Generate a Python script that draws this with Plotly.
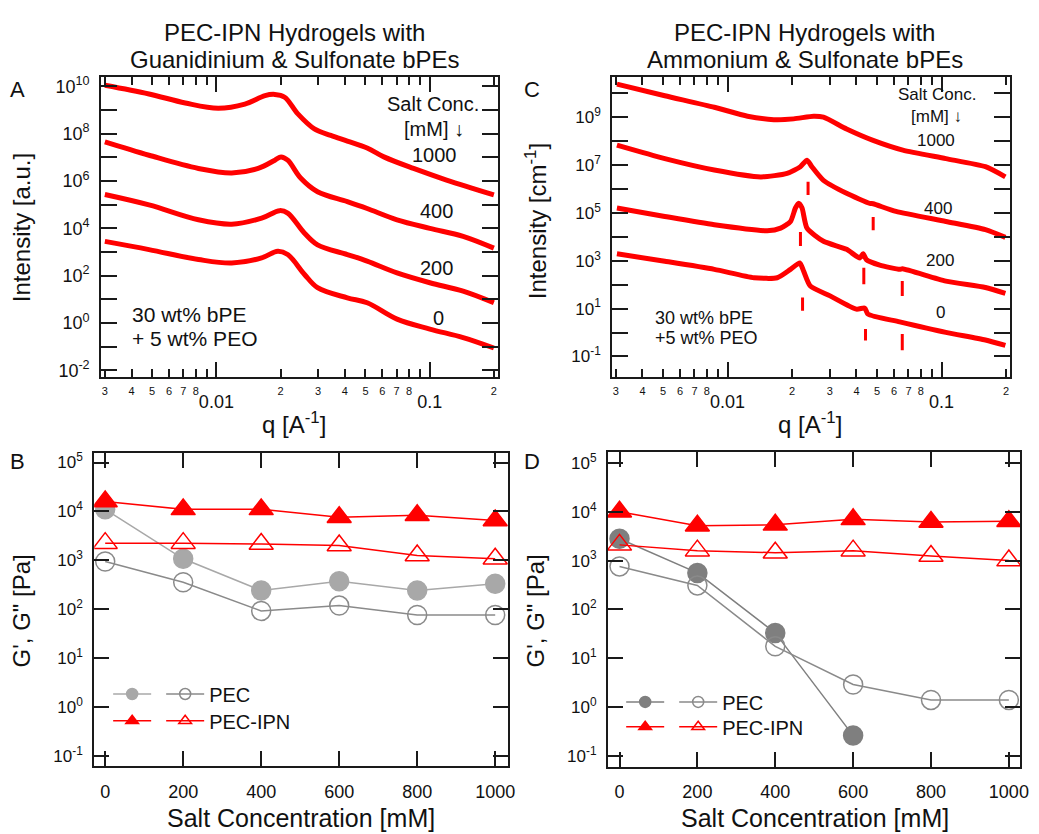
import plotly.graph_objects as go

W, H = 1039, 834
FONT = "Liberation Sans, Arial, sans-serif"
RED = "#ff0000"
AX = "#1a1a1a"

# ---------------- Panel A : SAXS, guanidinium & sulfonate ----------------
A_q_1000 = [0.003, 0.00483, 0.00715, 0.0102, 0.0136, 0.0169, 0.0188, 0.0209, 0.0241, 0.0288, 0.0344, 0.0411, 0.0509, 0.061, 0.084, 0.12, 0.2]
A_I_1000 = [1.12e10, 4.8e9, 2.0e9, 1.2e9, 1.8e9, 4.1e9, 4.6e9, 3.5e9, 6.9e8, 1.6e8, 8.5e7, 4.9e7, 2.5e7, 1.05e7, 3.4e6, 1.1e6, 2.6e5]
A_q_400 = [0.003, 0.00483, 0.00824, 0.0118, 0.0157, 0.0188, 0.0201, 0.0216, 0.0249, 0.0298, 0.0411, 0.0509, 0.0703, 0.1002, 0.1435, 0.2]
A_I_400 = [4.5e7, 1.23e7, 3.4e6, 2.2e6, 3.4e6, 7.6e6, 1.05e7, 7.6e6, 1.3e6, 3.5e5, 1.35e5, 6.9e4, 2.3e4, 1.0e4, 4.6e3, 1.45e3]
A_q_200 = [0.003, 0.00483, 0.00824, 0.0118, 0.0163, 0.0198, 0.0216, 0.0259, 0.0298, 0.0411, 0.0509, 0.0703, 0.1002, 0.1435, 0.2]
A_I_200 = [2.7e5, 9.8e4, 2.3e4, 1.5e4, 2.7e4, 5.6e4, 4.4e4, 6.2e3, 2.0e3, 780, 410, 130, 50, 22, 7.1]
A_q_0 = [0.003, 0.00483, 0.00824, 0.0118, 0.0163, 0.0194, 0.0216, 0.0259, 0.0298, 0.0411, 0.0509, 0.0703, 0.1002, 0.1435, 0.2]
A_I_0 = [2800, 1260, 480, 340, 560, 1070, 780, 112, 31, 11.5, 7.1, 1.45, 0.55, 0.24, 0.087]

# ---------------- Panel C : SAXS, ammonium & sulfonate ----------------
C_q_1000 = [0.00304, 0.00509, 0.00867, 0.01239, 0.01644, 0.02037, 0.02523, 0.02805, 0.03597, 0.04786, 0.0659, 0.1047, 0.1603, 0.1986]
C_I_1000 = [2.4e10, 7.9e9, 2.6e9, 1.1e9, 7.9e8, 8.5e8, 1.1e9, 1.0e9, 3.2e8, 1.07e8, 4.2e7, 1.86e7, 8.5e6, 3.2e6]
C_q_400 = [0.00304, 0.00509, 0.00867, 0.01429, 0.01897, 0.02188, 0.0235, 0.02477, 0.02805, 0.03597, 0.04624, 0.04786, 0.0612, 0.1047, 0.1603, 0.1986]
C_I_400 = [6.8e7, 1.86e7, 6.2e6, 3.2e6, 4.5e6, 8.5e6, 1.6e7, 8.5e6, 2.3e6, 6.6e5, 2.5e5, 2.4e5, 1.15e5, 4.4e4, 2.0e4, 9.5e3]
C_q_200 = [0.00304, 0.00509, 0.00867, 0.01531, 0.0177, 0.01968, 0.02075, 0.02148, 0.02228, 0.0235, 0.02805, 0.03597, 0.0415, 0.04295, 0.04457, 0.0514, 0.0637, 0.0656, 0.1047, 0.1603, 0.1986]
C_I_200 = [1.6e5, 7.1e4, 3.2e4, 1.8e4, 2.3e4, 4.4e4, 1.6e5, 2.5e5, 1.6e5, 2.3e4, 6.5e3, 3.0e3, 1.3e3, 1.95e3, 1.1e3, 660, 440, 460, 141, 76, 43]
C_q_0 = [0.00304, 0.00509, 0.00867, 0.0133, 0.01706, 0.01968, 0.02173, 0.02265, 0.02432, 0.03013, 0.03999, 0.04375, 0.04529, 0.0637, 0.1047, 0.1603, 0.1986]
C_I_0 = [1950, 955, 437, 195, 195, 437, 813, 372, 89, 34, 9.5, 10.5, 5.9, 2.8, 1.02, 0.49, 0.29]
# Bragg peak indicator dashes
C_peak_q = [0.02377, 0.0479, 0.0219, 0.0433, 0.0655, 0.0224, 0.0441, 0.0655]
C_peak_top = [2.0e6, 6.8e4, 1.6e4, 513, 141, 28.8, 1.41, 0.87]
C_peak_bot = [5.6e5, 1.9e4, 4.1e3, 105, 34, 8.1, 0.46, 0.18]

# ---------------- Panels B, D : rheology ----------------
salt = [0, 200, 400, 600, 800, 1000]
B_pec_Gp = [1.1e4, 1070, 240, 370, 240, 330]
B_pec_Gpp = [940, 355, 92, 118, 76, 76]
B_ipn_Gp = [1.6e4, 1.1e4, 1.1e4, 7600, 8300, 6500]
B_ipn_Gpp = [2240, 2240, 2150, 2000, 1250, 1070]

D_salt_filled = [0, 200, 400, 600]
D_pec_Gp = [2800, 560, 33, 0.26]
D_pec_Gpp = [760, 310, 17.5, 2.9, 1.4, 1.4]
D_ipn_Gp = [1.0e4, 5200, 5400, 7000, 6200, 6400]
D_ipn_Gpp = [2100, 1600, 1450, 1600, 1240, 1000]

# tick definitions
q_digit_vals = [0.003, 0.004, 0.005, 0.006, 0.007, 0.008, 0.02, 0.03, 0.04, 0.05, 0.06, 0.07, 0.08, 0.2]
q_digit_text = ["3", "4", "5", "6", "7", "8", "2", "3", "4", "5", "6", "7", "8", "2"]
q_nine_vals = [0.009, 0.09]
q_major_vals = [0.01, 0.1]
q_major_text = ["0.01", "0.1"]
A_label_exps = [-2, 0, 2, 4, 6, 8, 10]
A_minor_exps = [-1, 1, 3, 5, 7, 9]
C_label_exps = [-1, 1, 3, 5, 7, 9]
C_minor_exps = [0, 2, 4, 6, 8, 10]
G_exps = [-1, 0, 1, 2, 3, 4, 5]


def px(x):
    return x / W


def py(y):
    return 1 - y / H


fig = go.Figure()


def saxs(q, I, xa, ya, smooth):
    fig.add_trace(go.Scatter(x=q, y=I, mode="lines", xaxis=xa, yaxis=ya, showlegend=False,
                             line=dict(color=RED, width=5, shape="spline", smoothing=smooth),
                             hoverinfo="skip"))


for q, I in [(A_q_1000, A_I_1000), (A_q_400, A_I_400), (A_q_200, A_I_200), (A_q_0, A_I_0)]:
    saxs(q, I, "x", "y", 1.0)
for q, I in [(C_q_1000, C_I_1000), (C_q_400, C_I_400), (C_q_200, C_I_200), (C_q_0, C_I_0)]:
    saxs(q, I, "x3", "y3", 0.6)

dx, dy = [], []
for q, t, b in zip(C_peak_q, C_peak_top, C_peak_bot):
    dx += [q, q, None]
    dy += [t, b, None]
fig.add_trace(go.Scatter(x=dx, y=dy, mode="lines", xaxis="x3", yaxis="y3", showlegend=False,
                         line=dict(color=RED, width=3)))

# overlay axes carrying the decade ticks (0.01, 0.1)
fig.add_trace(go.Scatter(x=[], y=[], xaxis="x5", yaxis="y", showlegend=False))
fig.add_trace(go.Scatter(x=[], y=[], xaxis="x6", yaxis="y3", showlegend=False))

# rheology
LGRAY = "#a8a8a8"
MGRAY = "#8a8a8a"
DGRAY = "#7f7f7f"


def rheo(x, y, xa, ya, symbol, color, size, name, legend):
    # data trace
    fig.add_trace(go.Scatter(x=x, y=y, mode="lines+markers", xaxis=xa, yaxis=ya, showlegend=False,
                             line=dict(color=color, width=1.5),
                             marker=dict(symbol=symbol, size=size, color=color,
                                         line=dict(color=color, width=1.5))))
    # legend key (smaller symbol, as in the reference key)
    fig.add_trace(go.Scatter(x=[None], y=[None], mode="lines+markers", xaxis=xa, yaxis=ya,
                             name=name, legend=legend, showlegend=True,
                             line=dict(color=color, width=1.5),
                             marker=dict(symbol=symbol, size=11, color=color,
                                         line=dict(color=color, width=1.5))))


rheo(salt, B_pec_Gp, "x2", "y2", "circle", LGRAY, 19, "", "legend")
rheo(salt, B_pec_Gpp, "x2", "y2", "circle-open", MGRAY, 19, "PEC", "legend")
rheo(salt, B_ipn_Gp, "x2", "y2", "triangle-up", RED, 21, "", "legend2")
rheo(salt, B_ipn_Gpp, "x2", "y2", "triangle-up-open", RED, 21, "PEC-IPN", "legend2")

rheo(D_salt_filled, D_pec_Gp, "x4", "y4", "circle", DGRAY, 19, "", "legend3")
rheo(salt, D_pec_Gpp, "x4", "y4", "circle-open", MGRAY, 19, "PEC", "legend3")
rheo(salt, D_ipn_Gp, "x4", "y4", "triangle-up", RED, 21, "", "legend4")
rheo(salt, D_ipn_Gpp, "x4", "y4", "triangle-up-open", RED, 21, "PEC-IPN", "legend4")

base_axis = dict(showline=True, linecolor=AX, linewidth=2, mirror="ticks", ticks="inside",
                 tickcolor=AX, tickwidth=1.5, showgrid=False, zeroline=False)


def pow_text(exps):
    return [f"10<sup>{k}</sup>" for k in exps]


def pow_vals(exps):
    return [10.0 ** k for k in exps]


layout_axes = dict(
    xaxis=dict(base_axis, type="log", domain=[px(102), px(502)], range=[-2.54, -0.679], anchor="y",
               tickvals=q_digit_vals, ticktext=q_digit_text, ticklen=8,
               minor=dict(tickvals=q_nine_vals, ticklen=8, ticks="inside", tickcolor=AX, tickwidth=1.5),
               tickfont=dict(size=11, color="#111"), ticklabelstandoff=3),
    xaxis5=dict(type="log", overlaying="x", anchor="y", range=[-2.54, -0.679], showline=False,
                showgrid=False, zeroline=False, ticks="inside", ticklen=15, tickwidth=1.5, tickcolor=AX,
                mirror="ticks", tickvals=q_major_vals, ticktext=q_major_text,
                tickfont=dict(size=18, color="#111"), ticklabelstandoff=12),
    yaxis=dict(base_axis, type="log", domain=[py(377), py(75)], range=[-2.3, 10.38], anchor="x",
               tickvals=pow_vals(A_label_exps), ticktext=pow_text(A_label_exps), ticklen=16,
               minor=dict(tickvals=pow_vals(A_minor_exps), ticklen=16, ticks="inside", tickcolor=AX, tickwidth=1.5),
               tickfont=dict(size=18, color="#111"), ticklabelstandoff=6),
    xaxis3=dict(base_axis, type="log", domain=[px(617), px(1017.7)], range=[-2.539, -0.681], anchor="y3",
                tickvals=q_digit_vals, ticktext=q_digit_text, ticklen=8,
                minor=dict(tickvals=q_nine_vals, ticklen=8, ticks="inside", tickcolor=AX, tickwidth=1.5),
                tickfont=dict(size=11, color="#111"), ticklabelstandoff=3),
    xaxis6=dict(type="log", overlaying="x3", anchor="y3", range=[-2.539, -0.681], showline=False,
                showgrid=False, zeroline=False, ticks="inside", ticklen=15, tickwidth=1.5, tickcolor=AX,
                mirror="ticks", tickvals=q_major_vals, ticktext=q_major_text,
                tickfont=dict(size=18, color="#111"), ticklabelstandoff=12),
    yaxis3=dict(base_axis, type="log", domain=[py(377), py(75)], range=[-1.87, 10.66], anchor="x3",
                tickvals=pow_vals(C_label_exps), ticktext=pow_text(C_label_exps), ticklen=16,
                minor=dict(tickvals=pow_vals(C_minor_exps), ticklen=16, ticks="inside", tickcolor=AX, tickwidth=1.5),
                tickfont=dict(size=17, color="#111"), ticklabelstandoff=6),
    xaxis2=dict(base_axis, domain=[px(95), px(512)], range=[-28, 1033], anchor="y2",
                tickvals=salt, ticklen=15, tickfont=dict(size=18, color="#111"), ticklabelstandoff=8),
    yaxis2=dict(base_axis, type="log", domain=[py(769), py(453)], range=[-1.22, 5.2], anchor="x2",
                tickvals=pow_vals(G_exps), ticktext=pow_text(G_exps), ticklen=15,
                tickfont=dict(size=17, color="#111"), ticklabelstandoff=6),
    xaxis4=dict(base_axis, domain=[px(612.7), px(1028.3)], range=[-29.6, 1029.6], anchor="y4",
                tickvals=salt, ticklen=15, tickfont=dict(size=18, color="#111"), ticklabelstandoff=8),
    yaxis4=dict(base_axis, type="log", domain=[py(769.3), py(452.7)], range=[-1.224, 5.216], anchor="x4",
                tickvals=pow_vals(G_exps), ticktext=pow_text(G_exps), ticklen=15,
                tickfont=dict(size=17, color="#111"), ticklabelstandoff=6),
)

legend_common = dict(orientation="h", xanchor="left", yanchor="middle", bgcolor="rgba(0,0,0,0)",
                     font=dict(size=20, color="#111", family=FONT), itemsizing="trace",
                     itemwidth=38, itemclick=False)

fig.update_layout(
    width=W, height=H, margin=dict(l=0, r=0, t=0, b=0),
    paper_bgcolor="white", plot_bgcolor="white",
    font=dict(family=FONT, color="#111"),
    showlegend=True,
    legend=dict(legend_common, x=px(109), y=py(696)),
    legend2=dict(legend_common, x=px(109), y=py(723)),
    legend3=dict(legend_common, x=px(626), y=py(704)),
    legend4=dict(legend_common, x=px(626), y=py(729)),
    **layout_axes,
)


def ann(text, x, y, size, xanchor="center", angle=0):
    fig.add_annotation(text=text, x=px(x), y=py(y), xref="paper", yref="paper", showarrow=False,
                       xanchor=xanchor, yanchor="middle", textangle=angle,
                       font=dict(size=size, family=FONT, color="#111"))


# titles
ann("PEC-IPN Hydrogels with", 297, 30, 24)
ann("Guanidinium &amp; Sulfonate bPEs", 297, 57, 24)
ann("PEC-IPN Hydrogels with", 811, 30, 24)
ann("Ammonium &amp; Sulfonate bPEs", 811, 57, 24)
# panel letters
ann("A", 18, 87, 22)
ann("C", 536, 87, 22)
ann("B", 18, 462, 22)
ann("D", 536, 462, 22)
# axis titles
ann("Intensity [a.u.]", 22, 226, 24, angle=-90)
ann("Intensity [cm<sup>-1</sup>]", 541, 220, 24, angle=-90)
ann("q [A<sup>-1</sup>]", 296, 423, 24)
ann("q [A<sup>-1</sup>]", 816, 423, 24)
ann("G', G\" [Pa]", 22, 612, 24, angle=-90)
ann("G', G\" [Pa]", 540, 612, 24, angle=-90)
ann("Salt Concentration [mM]", 303, 821, 25)
ann("Salt Concentration [mM]", 821, 821, 25)
# panel A notes
ann("Salt Conc.", 436, 102, 20)
ann("[mM] \u2193", 437, 127, 20)
ann("1000", 438, 153, 20)
ann("400", 440, 210, 20)
ann("200", 440, 267, 20)
ann("0", 442, 317, 20)
ann("30 wt% bPE", 131, 314, 21, xanchor="left")
ann("+ 5 wt% PEO", 131, 338, 21, xanchor="left")
# panel C notes
ann("Salt Conc.", 944, 92, 17)
ann("[mM] \u2193", 944, 114, 17)
ann("1000", 943, 138, 17)
ann("400", 945, 207, 17)
ann("200", 947, 259, 17)
ann("0", 948, 312, 17)
ann("30 wt% bPE", 658, 317, 18, xanchor="left")
ann("+5 wt% PEO", 658, 337, 18, xanchor="left")

fig.write_html("out.html")
